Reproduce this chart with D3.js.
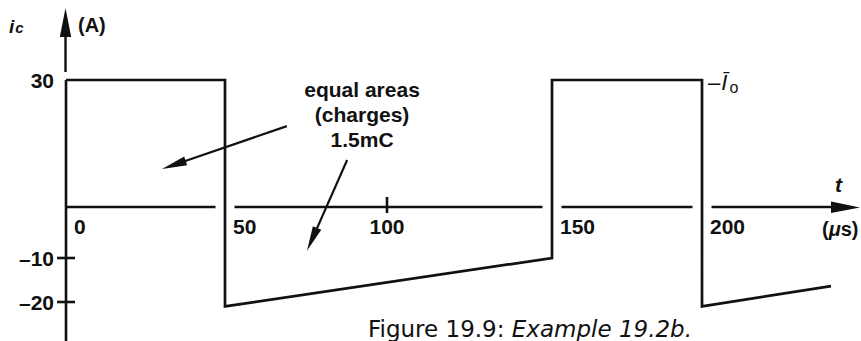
<!DOCTYPE html>
<html>
<head>
<meta charset="utf-8">
<script src="https://cdn.jsdelivr.net/npm/d3@7"></script>
<style>
  html, body { margin: 0; padding: 0; background: #fff; }
  svg { display: block; }
</style>
</head>
<body>
<script>
// Capacitor current i_c(t) for Example 19.2b

// waveform vertices: time (µs) and current (A)
const times   = [0, 50, 50, 150, 150, 200, 200, 243];
const current = [30, 30, -21, -10, 30, 30, -21, -16.4];

// instants where the current steps (the time axis is broken around them)
const switchTimes = [50, 150, 200];

const xTickValues = [0, 50, 100, 150, 200];
const xTickLabels = ["0", "50", "100", "150", "200"];

const yTickValues = [30, -10, -20];
const yTickLabels = ["30", "\u201310", "\u201320"];

const noteLines = ["equal areas", "(charges)", "1.5mC"];
const noteAnchor = [92.3, 26];             // [t, i] of the first text line
// pointer arrows from the note to the two areas: [[t, i] tail, [t, i] tip]
const noteArrows = [
  [[69.1, 19.1], [30.2, 9.0]],
  [[87.7, 11.1], [75.3, -8.6]]
];

const W = 861, H = 341;
const INK = "#111";
const SANS = "'Liberation Sans', Arial, Helvetica, sans-serif";

const svg = d3.select("body").append("svg")
  .attr("width", W).attr("height", H)
  .attr("viewBox", `0 0 ${W} ${H}`);

// hand-drawn axes are not perfectly uniform, so the scales are piecewise
const x = d3.scaleLinear().domain(xTickValues).range([66, 225, 387, 552, 702]);
const y = d3.scaleLinear().domain([-20, -10, 0, 30]).range([302, 258, 207, 80]);

const x0 = x(0), y0 = y(0);

// ---- vertical (current) axis ----
const yTop = 8, yHeadBase = 37;
svg.append("line")
  .attr("x1", x0).attr("x2", x0)
  .attr("y1", y(30)).attr("y2", H)
  .attr("stroke", INK).attr("stroke-width", 2.6);
svg.append("line")
  .attr("x1", x0 - 0.5).attr("x2", x0 - 0.5)
  .attr("y1", yHeadBase - 2).attr("y2", y(30) - 8)
  .attr("stroke", INK).attr("stroke-width", 2.4);
svg.append("path")
  .attr("d", `M${x0 - 0.5},${yTop} L${x0 - 6.2},${yHeadBase} L${x0 + 5.2},${yHeadBase} Z`)
  .attr("fill", INK);

svg.selectAll(".ytick").data(yTickValues.filter(v => v < 0)).join("line")
  .attr("class", "ytick")
  .attr("x1", x0 - 9).attr("x2", x0 + 9)
  .attr("y1", d => y(d)).attr("y2", d => y(d))
  .attr("stroke", INK).attr("stroke-width", 2.6);

svg.selectAll(".ylab").data(yTickValues).join("text")
  .attr("class", "ylab")
  .attr("x", x0 - 12).attr("y", d => y(d)).attr("dy", "0.36em")
  .attr("text-anchor", "end")
  .attr("font-family", SANS).attr("font-weight", "bold").attr("font-size", 21)
  .attr("fill", INK)
  .text((d, i) => yTickLabels[i]);

// ---- horizontal (time) axis, interrupted where the waveform jumps ----
const xEnd = 833, gap = 9.5;
const cuts = switchTimes.map(t => x(t));
let segStart = x0;
const segs = [];
cuts.forEach(c => { segs.push([segStart, c - gap]); segStart = c + gap; });
segs.push([segStart, xEnd]);
svg.selectAll(".xseg").data(segs).join("line")
  .attr("class", "xseg")
  .attr("x1", d => d[0]).attr("x2", d => d[1])
  .attr("y1", y0).attr("y2", y0)
  .attr("stroke", INK).attr("stroke-width", 2.5);
svg.append("path")
  .attr("d", `M${W - 1},${y0 + 0.5} L${xEnd - 2},${y0 - 5.5} L${xEnd - 2},${y0 + 6} Z`)
  .attr("fill", INK);

// single tick mark at 100 µs
svg.append("line")
  .attr("x1", x(100)).attr("x2", x(100))
  .attr("y1", y0 - 10).attr("y2", y0 + 6)
  .attr("stroke", INK).attr("stroke-width", 2.6);

svg.selectAll(".xlab").data(xTickValues).join("text")
  .attr("class", "xlab")
  .attr("x", d => d === 100 ? x(d) : x(d) + 8)
  .attr("y", y0 + 27)
  .attr("text-anchor", d => d === 100 ? "middle" : "start")
  .attr("font-family", SANS).attr("font-weight", "bold").attr("font-size", 21)
  .attr("fill", INK)
  .text((d, i) => xTickLabels[i]);

// ---- waveform ----
const line = d3.line().x(d => x(d[0])).y(d => y(d[1]));
svg.append("path")
  .datum(d3.zip(times, current))
  .attr("d", line)
  .attr("fill", "none")
  .attr("stroke", INK).attr("stroke-width", 2.7)
  .attr("stroke-linejoin", "miter");

// ---- axis titles ----
const ic = svg.append("text")
  .attr("x", 9).attr("y", 33)
  .attr("font-family", SANS).attr("font-weight", "bold").attr("font-style", "italic")
  .attr("font-size", 19).attr("fill", INK);
ic.append("tspan").text("i");
ic.append("tspan").attr("font-size", 15).attr("dx", 1).text("c");

svg.append("text")
  .attr("x", 78).attr("y", 32)
  .attr("font-family", SANS).attr("font-weight", "bold").attr("font-size", 20)
  .attr("fill", INK).text("(A)");

svg.append("text")
  .attr("x", 835).attr("y", 192)
  .attr("font-family", SANS).attr("font-weight", "bold").attr("font-style", "italic")
  .attr("font-size", 21).attr("fill", INK).text("t");

const us = svg.append("text")
  .attr("x", 822).attr("y", 236)
  .attr("font-family", SANS).attr("font-weight", "bold").attr("font-size", 20)
  .attr("fill", INK);
us.append("tspan").text("(");
us.append("tspan").attr("font-style", "italic").text("\u03bc");
us.append("tspan").text("s)");

// peak level label
const io = svg.append("text")
  .attr("x", x(200) + 6).attr("y", y(30) + 10)
  .attr("font-family", SANS).attr("font-size", 22).attr("fill", INK);
io.append("tspan").text("\u2013");
io.append("tspan").attr("font-style", "italic").attr("dx", 1).text("\u012a");
io.append("tspan").attr("font-size", 16).attr("dx", 2).attr("dy", 3).text("o");

// ---- annotation ----
svg.selectAll(".note").data(noteLines).join("text")
  .attr("class", "note")
  .attr("x", x(noteAnchor[0]))
  .attr("y", (d, i) => y(noteAnchor[1]) + i * 25)
  .attr("text-anchor", "middle")
  .attr("font-family", SANS).attr("font-weight", "bold").attr("font-size", 21)
  .attr("fill", INK)
  .text(d => d);

const headLen = 25, headHalf = 4.6;
noteArrows.forEach(([from, to]) => {
  const x1 = x(from[0]), y1 = y(from[1]);
  const x2 = x(to[0]), y2 = y(to[1]);
  const a = Math.atan2(y2 - y1, x2 - x1);
  const bx = x2 - headLen * Math.cos(a), by = y2 - headLen * Math.sin(a);
  const nx = -Math.sin(a) * headHalf, ny = Math.cos(a) * headHalf;
  svg.append("line")
    .attr("x1", x1).attr("y1", y1).attr("x2", bx + 2 * Math.cos(a)).attr("y2", by + 2 * Math.sin(a))
    .attr("stroke", INK).attr("stroke-width", 2.2);
  svg.append("path")
    .attr("d", `M${x2},${y2} L${bx + nx},${by + ny} L${bx - nx},${by - ny} Z`)
    .attr("fill", INK);
});

// ---- caption ----
const cap = svg.append("text")
  .attr("x", 368).attr("y", 337)
  .attr("font-family", "'DejaVu Sans', Verdana, sans-serif").attr("font-size", 23)
  .attr("fill", INK);
cap.append("tspan").text("Figure 19.9: ");
cap.append("tspan").attr("font-style", "italic").text("Example 19.2b.");
</script>
</body>
</html>
